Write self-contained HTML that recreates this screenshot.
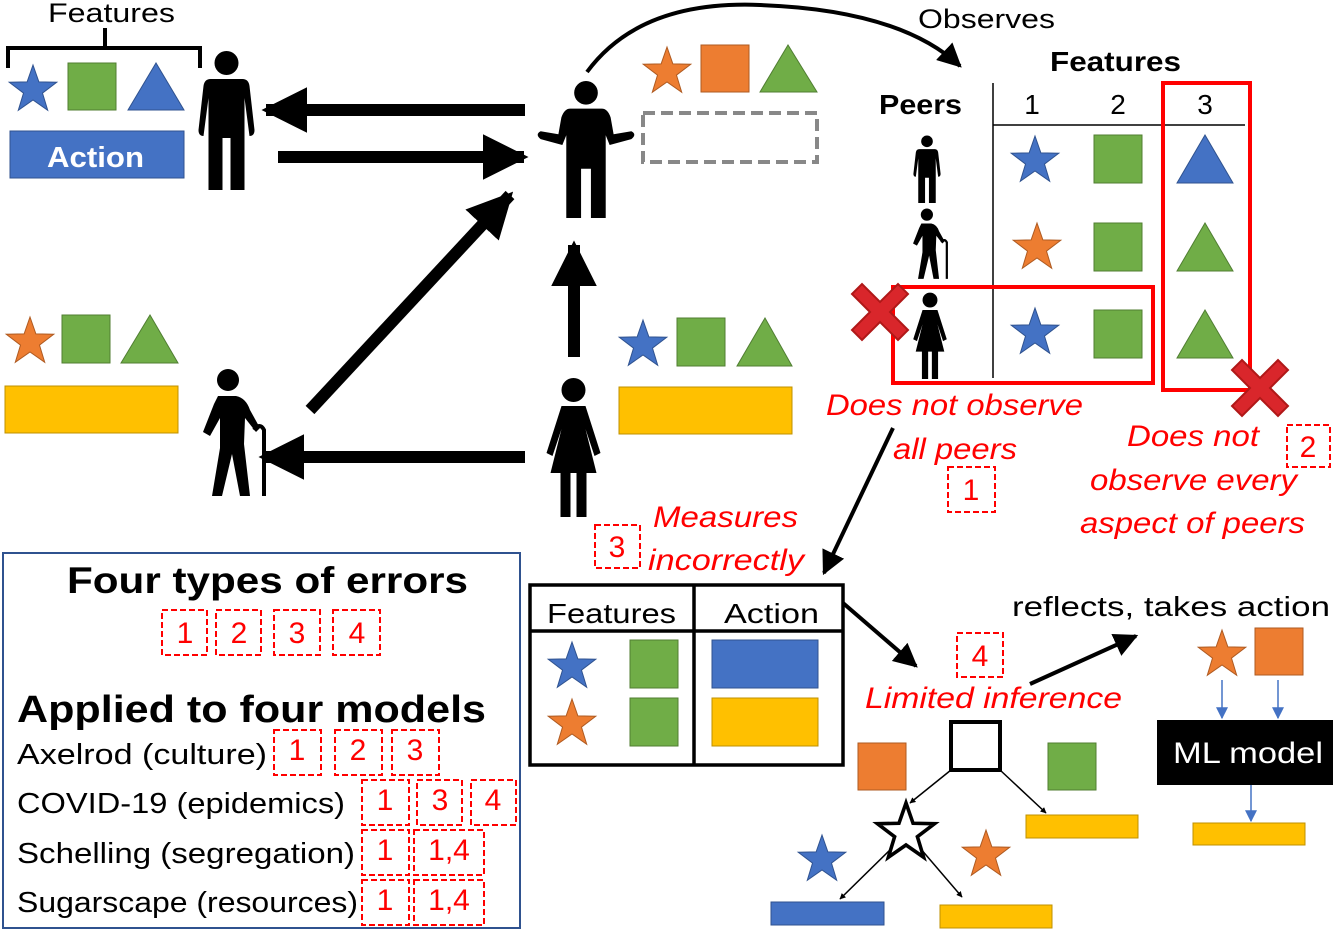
<!DOCTYPE html>
<html><head><meta charset="utf-8"><style>
html,body{margin:0;padding:0;background:#fff;}
svg{display:block;font-family:"Liberation Sans",sans-serif;}
.r{fill:#f00;font-style:italic;font-size:30px;}
.db{fill:none;stroke:#f00;stroke-width:2;stroke-dasharray:6,3;}
.dn{fill:#f00;font-size:30px;text-anchor:middle;}
</style></head><body>
<svg width="1333" height="932" viewBox="0 0 1333 932" xmlns="http://www.w3.org/2000/svg">
<defs>
<symbol id="man" viewBox="0 0 60 140">
<circle cx="30" cy="13" r="12"/>
<path d="M14,29 H46 Q52,29 53,36 L58,80 Q58,86 53,86 L48,48 V140 H34 V88 H26 V140 H12 V48 L7,86 Q2,86 2,80 L7,36 Q8,29 14,29Z"/>
</symbol>
<symbol id="woman" viewBox="0 0 60 140">
<circle cx="30" cy="13" r="12"/>
<path d="M18,29 H42 L57,76 L51,79 L42,52 L53,96 H7 L18,52 L9,79 L3,76Z"/>
<rect x="17" y="94" width="10" height="46"/><rect x="33" y="94" width="10" height="46"/>
</symbol>
<symbol id="old" viewBox="0 0 80 130">
<circle cx="38" cy="12" r="11"/>
<path d="M28,28 H46 Q56,30 60,42 L70,60 L66,64 L55,50 L54,76 L60,128 H50 L42,86 L32,128 H22 L30,80 L30,50 L20,68 L13,64 L24,36Z"/>
<path d="M64,62 Q70,54 74,62 V128" fill="none" stroke="#000" stroke-width="4"/>
</symbol>
<symbol id="shrug" viewBox="0 0 100 140">
<circle cx="50" cy="13" r="12"/>
<path d="M34,29 H66 Q72,29 75,38 L78,55 L96,52 Q102,55 96,60 L74,66 L70,56 V140 H55 V90 H45 V140 H30 V56 L26,66 L4,60 Q-2,55 4,52 L22,55 L25,38 Q28,29 34,29Z"/>
</symbol>
<polygon id="star" points="0,-1 .235,-.324 .951,-.309 .38,.124 .588,.809 0,.4 -.588,.809 -.38,.124 -.951,-.309 -.235,-.324"/>
<marker id="ah" viewBox="0 0 10 10" refX="9" refY="5" markerWidth="3.8" markerHeight="3.8" orient="auto"><path d="M0,0 L10,5 L0,10Z"/></marker>
<marker id="ahs" viewBox="0 0 10 10" refX="9" refY="5" markerWidth="4" markerHeight="4" orient="auto"><path d="M0,0 L10,5 L0,10Z" fill="#000"/></marker>
<marker id="ahb" viewBox="0 0 10 10" refX="9" refY="5" markerWidth="8" markerHeight="8" orient="auto"><path d="M0,0 L10,5 L0,10Z" fill="#4472c4"/></marker>
<marker id="aht" viewBox="0 0 10 10" refX="9" refY="5" markerWidth="6" markerHeight="6" orient="auto"><path d="M0,0 L10,5 L0,10Z" fill="#000"/></marker>
<g id="xmark"><path d="M-28,-18 L-18,-28 L0,-10 L18,-28 L28,-18 L10,0 L28,18 L18,28 L0,10 L-18,28 L-28,18 L-10,0Z" fill="#d9262b" stroke="#b01818" stroke-width="2"/></g>
</defs>

<text x="48" y="22" font-size="27" textLength="127" lengthAdjust="spacingAndGlyphs">Features</text>
<path d="M8,68 V48 H105 V28 M105,48 H200 V68" fill="none" stroke="#000" stroke-width="4"/>
<use href="#star" transform="translate(33,90) scale(25)" fill="#4472c4" stroke="#2f528f" stroke-width=".04"/>
<rect x="68" y="63" width="48" height="47" fill="#70ad47" stroke="#507e32"/>
<polygon points="128,110 156,63 184,110" fill="#4472c4" stroke="#2f528f"/>
<rect x="10" y="131" width="174" height="47" fill="#4472c4" stroke="#2f528f"/>
<text x="47" y="167" font-size="29" font-weight="bold" fill="#fff" textLength="97" lengthAdjust="spacingAndGlyphs">Action</text>
<use href="#man" x="193" y="50" width="67" height="140"/>

<line x1="525" y1="110" x2="266" y2="110" stroke="#000" stroke-width="12" marker-end="url(#ah)"/>
<line x1="278" y1="157" x2="524" y2="157" stroke="#000" stroke-width="12" marker-end="url(#ah)"/>
<line x1="310" y1="410" x2="510" y2="195" stroke="#000" stroke-width="12" marker-end="url(#ah)"/>
<line x1="525" y1="457" x2="263" y2="457" stroke="#000" stroke-width="12" marker-end="url(#ah)"/>
<line x1="574" y1="357" x2="574" y2="245" stroke="#000" stroke-width="12" marker-end="url(#ah)"/>

<use href="#shrug" x="535" y="80" width="102" height="138"/>
<use href="#star" transform="translate(667,72) scale(25)" fill="#ed7d31" stroke="#ae5a21" stroke-width=".04"/>
<rect x="701" y="45" width="48" height="47" fill="#ed7d31" stroke="#ae5a21"/>
<polygon points="760,92 788,45 817,92" fill="#70ad47" stroke="#507e32"/>
<rect x="643" y="113" width="174" height="49" fill="none" stroke="#888" stroke-width="4" stroke-dasharray="12,6"/>
<path d="M587,72 Q640,0 760,5 Q900,10 960,66" fill="none" stroke="#000" stroke-width="4" marker-end="url(#aht)"/>
<text x="918" y="28" font-size="27" textLength="137" lengthAdjust="spacingAndGlyphs">Observes</text>

<use href="#star" transform="translate(30,342) scale(25)" fill="#ed7d31" stroke="#ae5a21" stroke-width=".04"/>
<rect x="62" y="315" width="48" height="48" fill="#70ad47" stroke="#507e32"/>
<polygon points="121,363 150,315 178,363" fill="#70ad47" stroke="#507e32"/>
<rect x="5" y="386" width="173" height="47" fill="#ffc000" stroke="#bf9000"/>
<use href="#old" x="188" y="368" width="84" height="130"/>

<use href="#woman" x="540" y="377" width="67" height="140"/>
<use href="#star" transform="translate(643,345) scale(25)" fill="#4472c4" stroke="#2f528f" stroke-width=".04"/>
<rect x="677" y="318" width="48" height="48" fill="#70ad47" stroke="#507e32"/>
<polygon points="737,366 765,318 792,366" fill="#70ad47" stroke="#507e32"/>
<rect x="619" y="387" width="173" height="47" fill="#ffc000" stroke="#bf9000"/>

<text x="1050" y="71" font-size="28" font-weight="bold" textLength="131" lengthAdjust="spacingAndGlyphs">Features</text>
<text x="879" y="114" font-size="28" font-weight="bold" textLength="83" lengthAdjust="spacingAndGlyphs">Peers</text>
<text x="1032" y="114" font-size="28" text-anchor="middle">1</text>
<text x="1118" y="114" font-size="28" text-anchor="middle">2</text>
<text x="1205" y="114" font-size="28" text-anchor="middle">3</text>
<line x1="993" y1="83" x2="993" y2="378" stroke="#000" stroke-width="1.5"/>
<line x1="993" y1="125" x2="1245" y2="125" stroke="#000" stroke-width="1.5"/>
<use href="#man" x="910" y="135" width="34" height="68"/>
<use href="#star" transform="translate(1035,161) scale(25)" fill="#4472c4" stroke="#2f528f" stroke-width=".04"/>
<rect x="1094" y="135" width="48" height="48" fill="#70ad47" stroke="#507e32"/>
<polygon points="1177,183 1205,135 1233,183" fill="#4472c4" stroke="#2f528f"/>
<use href="#old" x="903" y="208" width="50" height="72"/>
<use href="#star" transform="translate(1037,248) scale(25)" fill="#ed7d31" stroke="#ae5a21" stroke-width=".04"/>
<rect x="1094" y="223" width="48" height="48" fill="#70ad47" stroke="#507e32"/>
<polygon points="1177,271 1205,223 1233,271" fill="#70ad47" stroke="#507e32"/>
<use href="#woman" x="910" y="292" width="40" height="87"/>
<use href="#star" transform="translate(1035,333) scale(25)" fill="#4472c4" stroke="#2f528f" stroke-width=".04"/>
<rect x="1094" y="310" width="48" height="48" fill="#70ad47" stroke="#507e32"/>
<polygon points="1177,358 1205,310 1233,358" fill="#70ad47" stroke="#507e32"/>
<rect x="893" y="287" width="260" height="96" fill="none" stroke="#f00" stroke-width="4"/>
<rect x="1163" y="83" width="87" height="307" fill="none" stroke="#f00" stroke-width="4"/>
<use href="#xmark" transform="translate(880,312)"/>
<use href="#xmark" transform="translate(1260,388)"/>

<text class="r" x="826" y="415" textLength="257" lengthAdjust="spacingAndGlyphs">Does not observe</text>
<text class="r" x="893" y="459" textLength="124" lengthAdjust="spacingAndGlyphs">all peers</text>
<rect class="db" x="948" y="467" width="47" height="45"/><text class="dn" x="971" y="500">1</text>
<text class="r" x="1127" y="446" textLength="132" lengthAdjust="spacingAndGlyphs">Does not</text>
<rect class="db" x="1287" y="425" width="43" height="42"/><text class="dn" x="1308" y="457">2</text>
<text class="r" x="1090" y="490" textLength="207" lengthAdjust="spacingAndGlyphs">observe every</text>
<text class="r" x="1080" y="533" textLength="225" lengthAdjust="spacingAndGlyphs">aspect of peers</text>
<line x1="893" y1="428" x2="824" y2="573" stroke="#000" stroke-width="4" marker-end="url(#aht)"/>

<rect class="db" x="595" y="525" width="45" height="43"/><text class="dn" x="617" y="557">3</text>
<text class="r" x="653" y="527" textLength="145" lengthAdjust="spacingAndGlyphs">Measures</text>
<text class="r" x="648" y="570" textLength="156" lengthAdjust="spacingAndGlyphs">incorrectly</text>

<rect x="530" y="585" width="313" height="180" fill="none" stroke="#000" stroke-width="3.5"/>
<line x1="530" y1="631" x2="843" y2="631" stroke="#000" stroke-width="3.5"/>
<line x1="694" y1="585" x2="694" y2="765" stroke="#000" stroke-width="3.5"/>
<text x="547" y="623" font-size="28" textLength="129" lengthAdjust="spacingAndGlyphs">Features</text>
<text x="724" y="623" font-size="28" textLength="95" lengthAdjust="spacingAndGlyphs">Action</text>
<use href="#star" transform="translate(572,667) scale(25)" fill="#4472c4" stroke="#2f528f" stroke-width=".04"/>
<rect x="630" y="640" width="48" height="48" fill="#70ad47" stroke="#507e32"/>
<rect x="712" y="640" width="106" height="48" fill="#4472c4" stroke="#2f528f"/>
<use href="#star" transform="translate(572,724) scale(25)" fill="#ed7d31" stroke="#ae5a21" stroke-width=".04"/>
<rect x="630" y="698" width="48" height="48" fill="#70ad47" stroke="#507e32"/>
<rect x="712" y="698" width="106" height="48" fill="#ffc000" stroke="#bf9000"/>
<line x1="843" y1="603" x2="916" y2="666" stroke="#000" stroke-width="4" marker-end="url(#aht)"/>

<rect class="db" x="957" y="633" width="46" height="44"/><text class="dn" x="980" y="666">4</text>
<text class="r" x="865" y="708" textLength="257" lengthAdjust="spacingAndGlyphs">Limited inference</text>
<line x1="1030" y1="684" x2="1136" y2="636" stroke="#000" stroke-width="4" marker-end="url(#aht)"/>
<text x="1012" y="616" font-size="28" textLength="318" lengthAdjust="spacingAndGlyphs">reflects, takes action</text>

<use href="#star" transform="translate(1222,655) scale(25)" fill="#ed7d31" stroke="#ae5a21" stroke-width=".04"/>
<rect x="1255" y="628" width="48" height="47" fill="#ed7d31" stroke="#ae5a21"/>
<line x1="1222" y1="680" x2="1222" y2="718" stroke="#4472c4" stroke-width="1.5" marker-end="url(#ahb)"/>
<line x1="1278" y1="680" x2="1278" y2="718" stroke="#4472c4" stroke-width="1.5" marker-end="url(#ahb)"/>
<rect x="1157" y="720" width="176" height="65" fill="#000"/>
<text x="1173" y="763" font-size="30" fill="#fff" textLength="150" lengthAdjust="spacingAndGlyphs">ML model</text>
<line x1="1251" y1="785" x2="1251" y2="821" stroke="#4472c4" stroke-width="1.5" marker-end="url(#ahb)"/>
<rect x="1193" y="823" width="112" height="22" fill="#ffc000" stroke="#bf9000"/>

<rect x="951" y="722" width="49" height="48" fill="#fff" stroke="#000" stroke-width="4"/>
<rect x="858" y="743" width="48" height="47" fill="#ed7d31" stroke="#ae5a21"/>
<rect x="1048" y="743" width="48" height="47" fill="#70ad47" stroke="#507e32"/>
<line x1="951" y1="770" x2="910" y2="803" stroke="#000" stroke-width="1.5" marker-end="url(#ahs)"/>
<line x1="1000" y1="770" x2="1046" y2="813" stroke="#000" stroke-width="1.5" marker-end="url(#ahs)"/>
<rect x="1026" y="815" width="112" height="23" fill="#ffc000" stroke="#bf9000"/>
<use href="#star" transform="translate(906,833) scale(30)" fill="#fff" stroke="#000" stroke-width=".12"/>
<use href="#star" transform="translate(822,860) scale(25)" fill="#4472c4" stroke="#2f528f" stroke-width=".04"/>
<use href="#star" transform="translate(986,855) scale(25)" fill="#ed7d31" stroke="#ae5a21" stroke-width=".04"/>
<line x1="892" y1="848" x2="840" y2="899" stroke="#000" stroke-width="1.5" marker-end="url(#ahs)"/>
<line x1="920" y1="848" x2="962" y2="897" stroke="#000" stroke-width="1.5" marker-end="url(#ahs)"/>
<rect x="771" y="902" width="113" height="23" fill="#4472c4" stroke="#2f528f"/>
<rect x="940" y="905" width="112" height="23" fill="#ffc000" stroke="#bf9000"/>

<rect x="3" y="553" width="517" height="375" fill="none" stroke="#2f528f" stroke-width="2"/>
<text x="67" y="593" font-size="37" font-weight="bold" textLength="401" lengthAdjust="spacingAndGlyphs">Four types of errors</text>
<rect class="db" x="162" y="610" width="45" height="45"/><text class="dn" x="185" y="643">1</text>
<rect class="db" x="216" y="610" width="45" height="45"/><text class="dn" x="239" y="643">2</text>
<rect class="db" x="274" y="610" width="46" height="45"/><text class="dn" x="297" y="643">3</text>
<rect class="db" x="333" y="610" width="47" height="45"/><text class="dn" x="357" y="643">4</text>
<text x="17" y="722" font-size="38" font-weight="bold" textLength="469" lengthAdjust="spacingAndGlyphs">Applied to four models</text>
<text x="17" y="764" font-size="29" textLength="250" lengthAdjust="spacingAndGlyphs">Axelrod (culture)</text>
<rect class="db" x="274" y="730" width="47" height="45"/><text class="dn" x="297" y="760">1</text>
<rect class="db" x="335" y="730" width="47" height="45"/><text class="dn" x="358" y="760">2</text>
<rect class="db" x="392" y="730" width="47" height="45"/><text class="dn" x="415" y="760">3</text>
<text x="17" y="813" font-size="29" textLength="328" lengthAdjust="spacingAndGlyphs">COVID-19 (epidemics)</text>
<rect class="db" x="362" y="780" width="47" height="45"/><text class="dn" x="385" y="810">1</text>
<rect class="db" x="417" y="780" width="45" height="45"/><text class="dn" x="440" y="810">3</text>
<rect class="db" x="471" y="780" width="45" height="45"/><text class="dn" x="493" y="810">4</text>
<text x="17" y="863" font-size="29" textLength="338" lengthAdjust="spacingAndGlyphs">Schelling (segregation)</text>
<rect class="db" x="362" y="830" width="47" height="45"/><text class="dn" x="385" y="860">1</text>
<rect class="db" x="414" y="830" width="70" height="45"/><text class="dn" x="449" y="860">1,4</text>
<text x="17" y="912" font-size="29" textLength="341" lengthAdjust="spacingAndGlyphs">Sugarscape (resources)</text>
<rect class="db" x="362" y="880" width="47" height="45"/><text class="dn" x="385" y="910">1</text>
<rect class="db" x="414" y="880" width="70" height="45"/><text class="dn" x="449" y="910">1,4</text>
</svg>
</body></html>
